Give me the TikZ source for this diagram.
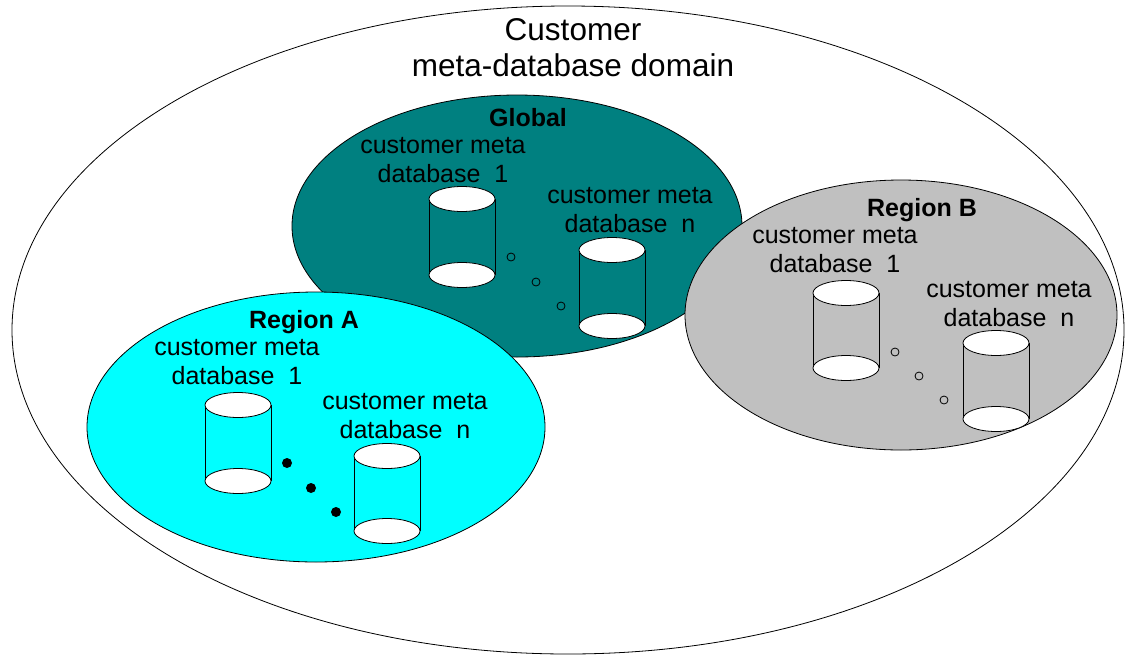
\documentclass[tikz,border=0pt]{standalone}
\usepackage{fontspec}
\setmainfont{Liberation Sans}
\definecolor{globalc}{RGB}{0,128,128}
\definecolor{regAc}{RGB}{0,255,255}
\definecolor{regBc}{RGB}{192,192,192}
\newcommand{\dbcyl}[4]{%
  \draw (#2-33,#3) -- (#2-33,#4) (#2+33,#3) -- (#2+33,#4);
  \draw[fill=white] (#2,#4) ellipse [x radius=33, y radius=12.5];
  \draw[fill=white] (#2,#3) ellipse [x radius=33, y radius=12.5];
  \coordinate (#1) at (#2,#3);
}
\begin{document}
\begin{tikzpicture}[x=1pt, y=-1pt, line width=0.8pt,
  lbl/.style={font=\fontsize{25}{29}\selectfont, align=center, inner sep=0pt},
  blbl/.style={font=\fontsize{25}{29}\selectfont\bfseries, inner sep=0pt, anchor=base},
  ttl/.style={font=\fontsize{31.5}{36}\selectfont, align=center, inner sep=0pt, anchor=north},
  hollowdot/.style={draw=black, line width=0.8pt},
  soliddot/.style={fill=black}]
\useasboundingbox (0,0) rectangle (1127,654);
% outer domain
\draw[fill=white] (568,330) ellipse [x radius=556, y radius=324];
\node[ttl] (title) at (573,18) {Customer\\meta-database domain};
% Global
\draw[fill=globalc] (517,226) ellipse [x radius=225, y radius=131];
\node[blbl] (glabel) at (528,126) {Global};
\node[lbl] (g1t) at (443,160.5) {customer meta\\database\ \ 1};
\node[lbl] (gnt) at (630,210) {customer meta\\database\ \ n};
\dbcyl{g1}{462}{199}{275}
\dbcyl{gn}{612}{250}{326}
\draw[hollowdot] (511,257) circle [radius=4];
\draw[hollowdot] (536,282) circle [radius=4];
\draw[hollowdot] (561,306) circle [radius=4];
% Region A
\draw[fill=regAc] (316,427) ellipse [x radius=229, y radius=135];
\node[blbl] (alabel) at (304,328) {Region A};
\node[lbl] (a1t) at (237,362.5) {customer meta\\database\ \ 1};
\node[lbl] (ant) at (405,416) {customer meta\\database\ \ n};
\dbcyl{a1}{238}{405}{481}
\dbcyl{an}{387}{456}{531}
\fill[soliddot] (287,463) circle [radius=5];
\fill[soliddot] (311,488) circle [radius=5];
\fill[soliddot] (336,512) circle [radius=5];
% Region B
\draw[fill=regBc] (901,315) ellipse [x radius=216, y radius=135];
\node[blbl] (blabel) at (922,216) {Region B};
\node[lbl] (b1t) at (835,250.5) {customer meta\\database\ \ 1};
\node[lbl] (bnt) at (1009,304.5) {customer meta\\database\ \ n};
\dbcyl{b1}{846}{293}{368}
\dbcyl{bn}{996}{343}{419}
\draw[hollowdot] (895,352) circle [radius=4];
\draw[hollowdot] (919,376) circle [radius=4];
\draw[hollowdot] (944,400) circle [radius=4];
\end{tikzpicture}
\end{document}
